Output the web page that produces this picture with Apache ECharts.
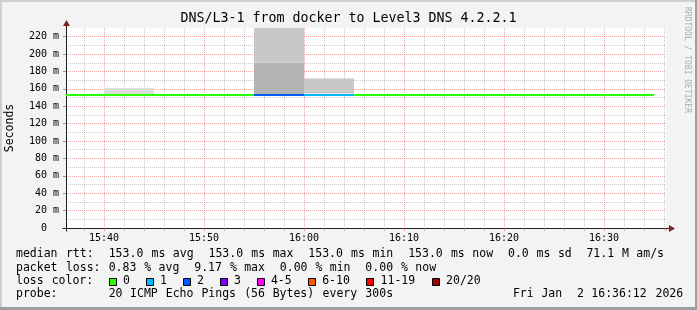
<!DOCTYPE html>
<html><head><meta charset="utf-8">
<script src="https://cdn.jsdelivr.net/npm/echarts@6/dist/echarts.min.js"></script>
<style>html,body{margin:0;padding:0;background:#f3f3f3;overflow:hidden}#c{width:697px;height:310px}</style>
</head><body><div id="c"></div>
<script>
// ---------------- data ----------------
const chartTitle = 'DNS/L3-1 from docker to Level3 DNS 4.2.2.1';
const yAxisName = 'Seconds';
const xStart = '15:36:12';
const xEnd = '16:36:12';
const yMin = 0, yMax = 230, yStep = 20;
const stepMinutes = 5;
const intervalStarts = ['15:35','15:40','15:45','15:50','15:55','16:00','16:05','16:10','16:15','16:20','16:25','16:30'];
const medianRtt = [153,153,153,153,153,153,153,153,153,153,153,153];
const lossCount = [0,0,0,0,2,1,0,0,0,0,0,0];
const smokeTime = ['15:40','15:55','15:55','16:00','16:00'];
const smokeLow = [153,153,190,155,157];
const smokeHigh = [161,190,250,157,172];
const smokeLevel = [0,2,1,3,1];
const lossLabels = ['0','1','2','3','4-5','6-10','11-19','20/20'];
const lossUpper = [0,1,2,3,5,10,19,20];
const legendLines = [
  'median rtt:  153.0 ms avg  153.0 ms max  153.0 ms min  153.0 ms now  0.0 ms sd  71.1 M am/s',
  'packet loss: 0.83 % avg  9.17 % max  0.00 % min  0.00 % now',
  'loss color:',
  'probe:       20 ICMP Echo Pings (56 Bytes) every 300s'
];
const timestamp = 'Fri Jan  2 16:36:12 2026';
const watermark = 'RRDTOOL / TOBI OETIKER';

// ---------------- style ----------------
const MONO = 'DejaVu Sans Mono';
const lossColors = ['#26ff00','#00b8ff','#0059ff','#7e00ff','#ff00ff','#ff5500','#ff0000','#a00000'];
const smokePalette = ['#dcdcdc','#c8c8c8','#b4b4b4','#bdbdbd'];
const MGRID = 'rgba(224,80,80,0.5)';
const GRID = 'rgba(143,143,143,0.5)';
const LX0 = 16, CH = 7.13, LY0 = 254.5, LDY = 13.25;

function toMin(s){const p=s.split(':').map(Number);return p[0]*60+p[1]+(p[2]||0)/60;}
function pad(n){return (n<10?'0':'')+n;}
function fmtTime(v){const r=Math.round(v);return pad(Math.floor(r/60))+':'+pad(r%60);}
function bucket(n){for(let i=0;i<lossUpper.length;i++){if(n<=lossUpper[i])return i;}return lossUpper.length-1;}

const xMin = toMin(xStart), xMax = toMin(xEnd);
const smokeData = smokeTime.map((t,i)=>[toMin(t), toMin(t)+stepMinutes, smokeLow[i], smokeHigh[i], smokeLevel[i]]);
const medianData = intervalStarts.map((t,i)=>[toMin(t), toMin(t)+stepMinutes, medianRtt[i], bucket(lossCount[i])]);

function clipToGrid(rect, cs){
  return echarts.graphic.clipRectByRect(rect,{x:cs.x,y:cs.y,width:cs.width,height:cs.height});
}

const chart = echarts.init(document.getElementById('c'), null, {renderer:'canvas'});

const graphics = [];
function textEl(t,x,y,opt){
  opt=opt||{};
  return {type:'text', x:x, y:y, rotation:opt.rotation||0, z:100,
    style:{text:t, font:(opt.size||11.5)+'px "'+MONO+'"', fill:opt.fill||'#000',
      align:opt.align||'left', textAlign:opt.align||'left', verticalAlign:'middle', textVerticalAlign:'middle'}};
}
legendLines.forEach((line,li)=>{
  const re=/\S+/g; let m;
  while((m=re.exec(line))){ graphics.push(textEl(m[0], LX0+m.index*CH, LY0+li*LDY)); }
});
let bx = LX0 + 13*CH;
lossLabels.forEach((lab,i)=>{
  graphics.push({type:'rect', z:100, shape:{x:Math.round(bx)+0.5, y:278.5, width:7, height:7},
    style:{fill:lossColors[i], stroke:'#000', lineWidth:1}});
  const lx = bx + 14.3;
  graphics.push(textEl(lab, lx, LY0+2*LDY));
  bx = lx + (lab.length+2)*CH + 1.3;
});
(function(){
  const start = 684 - timestamp.length*CH;
  const re=/\S+/g; let m;
  while((m=re.exec(timestamp))){ graphics.push(textEl(m[0], start+m.index*CH, LY0+3*LDY)); }
})();
graphics.push(textEl(watermark, 687.5, 60, {size:8, fill:'#adadad', align:'center', rotation:-Math.PI/2}));
graphics.push({type:'rect', z:90, shape:{x:0,y:0,width:697,height:2}, style:{fill:'#cfcfcf'}});
graphics.push({type:'rect', z:90, shape:{x:0,y:0,width:2,height:310}, style:{fill:'#cfcfcf'}});
graphics.push({type:'rect', z:91, shape:{x:695,y:0,width:2,height:310}, style:{fill:'#9e9e9e'}});
graphics.push({type:'rect', z:91, shape:{x:0,y:307,width:697,height:3}, style:{fill:'#9e9e9e'}});

const option = {
  backgroundColor:'#f3f3f3',
  animation:false,
  title:{text:chartTitle, left:'center', top:12, padding:0,
    textStyle:{fontFamily:MONO, fontSize:13.3, fontWeight:'normal', color:'#000'}},
  grid:{left:66, right:31, top:28, bottom:82, show:true, backgroundColor:'#ffffff', borderWidth:0,
    containLabel:false, outerBoundsMode:'none'},
  xAxis:{type:'value', min:xMin, max:xMax, splitNumber:6, scale:false,
    axisLine:{show:true, lineStyle:{color:'#202020', width:1}},
    axisTick:{show:true, length:3, lineStyle:{color:MGRID}},
    minorTick:{show:true, splitNumber:5, length:3, lineStyle:{color:GRID}},
    axisLabel:{show:true, margin:5, showMinLabel:false, showMaxLabel:false, formatter:fmtTime,
      fontFamily:MONO, fontSize:10, color:'#000', hideOverlap:false},
    splitLine:{show:true, showMinLine:false, showMaxLine:false, lineStyle:{color:MGRID, type:[1,1], width:1}},
    minorSplitLine:{show:true, lineStyle:{color:GRID, type:[1,1], width:1}}
  },
  yAxis:{type:'value', min:yMin, max:yMax, interval:yStep,
    name:yAxisName, nameLocation:'middle', nameGap:50, nameRotate:90,
    nameTextStyle:{fontFamily:MONO, fontSize:11.5, color:'#000'},
    axisLine:{show:true, lineStyle:{color:'#202020', width:1}},
    axisTick:{show:true, length:3, lineStyle:{color:'#999'}},
    axisLabel:{show:true, margin:7, showMaxLabel:false, fontFamily:MONO, fontSize:10, color:'#000',
      formatter:function(v){return v===0?'0  ':v+' m';}},
    splitLine:{show:true, showMinLine:false, showMaxLine:false, lineStyle:{color:MGRID, type:[1,1], width:1}},
    minorTick:{show:false, splitNumber:2},
    minorSplitLine:{show:true, lineStyle:{color:GRID, type:[1,1], width:1}}
  },
  series:[
    {type:'custom', name:'smoke', data:smokeData, encode:{x:[0,1], y:[2,3]}, z:2, silent:true,
      renderItem:function(params, api){
        const p0 = api.coord([api.value(0), api.value(3)]);
        const p1 = api.coord([api.value(1), api.value(2)]);
        const r = clipToGrid({x:p0[0], y:p0[1], width:p1[0]-p0[0], height:p1[1]-p0[1]}, params.coordSys);
        if(!r) return null;
        return {type:'rect', shape:r, style:{fill:smokePalette[api.value(4)]}};
      }},
    {type:'custom', name:'median', data:medianData, encode:{x:[0,1], y:2}, z:3, silent:true,
      renderItem:function(params, api){
        const cs = params.coordSys;
        const a = api.coord([api.value(0), api.value(2)]);
        const b = api.coord([api.value(1), api.value(2)]);
        const xa = Math.max(a[0], cs.x), xb = Math.min(b[0], cs.x+cs.width);
        if(xb<=xa) return null;
        return {type:'line', shape:{x1:xa, y1:a[1], x2:xb, y2:a[1]},
          style:{stroke:lossColors[api.value(3)], lineWidth:2}};
      }}
  ],
  graphic:{elements:graphics}
};
chart.setOption(option);

const o = chart.convertToPixel({gridIndex:0}, [xMin, yMin]);
const e = chart.convertToPixel({gridIndex:0}, [xMax, yMax]);
const ox = Math.round(o[0])+0.5, oy = Math.round(o[1])+0.5, ex = Math.round(e[0]), ey = Math.round(e[1]);
chart.setOption({graphic:{elements:graphics.concat([
  {type:'line', z:95, shape:{x1:ex, y1:oy, x2:ex+3, y2:oy}, style:{stroke:'#202020', lineWidth:1}},
  {type:'line', z:95, shape:{x1:ox-4, y1:oy, x2:ox, y2:oy}, style:{stroke:'#202020', lineWidth:1}},
  {type:'polygon', z:95, shape:{points:[[ex+3,oy-3.5],[ex+9,oy],[ex+3,oy+3.5]]}, style:{fill:'#802020'}},
  {type:'line', z:95, shape:{x1:ox, y1:ey, x2:ox, y2:ey-2}, style:{stroke:'#202020', lineWidth:1}},
  {type:'line', z:95, shape:{x1:ox, y1:oy, x2:ox, y2:oy+3}, style:{stroke:'#202020', lineWidth:1}},
  {type:'polygon', z:95, shape:{points:[[ox-3.5,ey-2],[ox,ey-8],[ox+3.5,ey-2]]}, style:{fill:'#802020'}}
])}});
</script>
</body></html>
